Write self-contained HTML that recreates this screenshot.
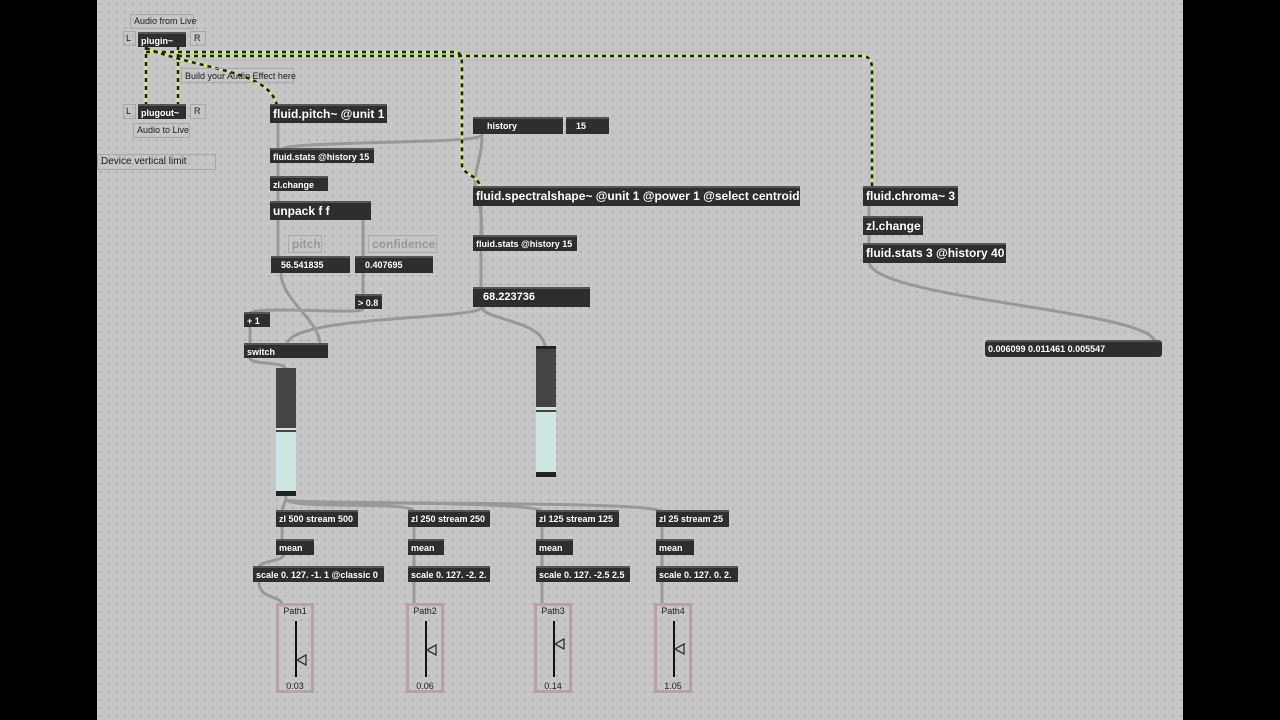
<!DOCTYPE html>
<html><head><meta charset="utf-8"><style>
body{margin:0;width:1280px;height:720px;overflow:hidden;background:#000;font-family:"Liberation Sans",sans-serif}
#p{position:absolute;left:97px;top:0;width:1086px;height:720px;background-color:#c6c6c6;background-image:radial-gradient(#a9a9a9 0.8px,transparent 1px);background-size:8px 8px}
.o{position:absolute;background:#2e2e2e;color:#fff;font-weight:bold;font-size:9px;line-height:14px;padding-left:3px;box-sizing:border-box;border-top:2px solid #555;white-space:nowrap;overflow:hidden}
.b{font-size:12px}
.c{position:absolute;border:1px solid #aaa;color:#222;font-size:9px;line-height:13px;padding:0 3px;box-sizing:border-box;white-space:nowrap}
.g{position:absolute;border:1px solid #aaa;color:#999;font-weight:bold;font-size:12px;line-height:16px;padding:0 3px;box-sizing:border-box}
.path{position:absolute;border:3px solid #b9a3a8;box-sizing:border-box;width:38px;height:90px;top:603px;font-size:9px;color:#222;text-align:center}
.path .l{position:absolute;left:16px;top:15px;width:2px;height:56px;background:#111}
.path svg{position:absolute;left:17px}
.path .v{position:absolute;bottom:-1px;width:100%;font-size:9px}
svg{position:absolute;left:0;top:0}
</style></head><body>
<div id="p"></div>
<svg width="1280" height="720">
<g fill="none" stroke="#999" stroke-width="3" stroke-linecap="round">
<path d="M278 122V150"/><path d="M278 163V178"/><path d="M278 190V203"/>
<path d="M278 220V258"/><path d="M363 220V258"/><path d="M363 273V296"/>
<path d="M363 309C363 315 250 305 250 314"/><path d="M250 327V345"/>
<path d="M281 273C281 300 320 320 320 345"/>
<path d="M482 307C482 320 287 315 287 345"/>
<path d="M482 307C482 320 545 320 545 348"/>
<path d="M250 358C250 366 286 360 286 370"/>
<path d="M281 150C281 140 480 145 482 135"/>
<path d="M482 134C482 160 475 165 475 185C475 200 482 195 482 237"/>
<path d="M481 206V237"/><path d="M481 251V289"/>
<path d="M286 495C286 505 282 505 282 512"/>
<path d="M286 500C300 510 414 500 414 512"/>
<path d="M286 500C300 505 542 500 542 512"/>
<path d="M286 500C300 505 662 500 662 512"/>
<path d="M282 527V541"/><path d="M414 527V541"/><path d="M542 527V541"/><path d="M662 527V541"/>
<path d="M283 555C283 562 259 560 259 568"/><path d="M414 555V568"/><path d="M542 555V568"/><path d="M662 555V568"/>
<path d="M259 582C259 600 282 595 282 605"/><path d="M414 582V605"/><path d="M542 582V605"/><path d="M662 582V605"/>
<path d="M869 206V218"/><path d="M869 235V245"/>
<path d="M869 263C880 300 1150 310 1155 342"/>
</g>
<g fill="none" stroke-width="2.5">
<g stroke="#c8f07a"><path d="M146 46V106"/><path d="M178 46V106"/><path d="M146 48C200 70 270 70 277 106"/><path d="M146 52H455C462 52 462 60 462 70V165C462 175 480 175 480 188"/><path d="M178 56H862C870 56 872 62 872 70V188"/></g>
<g stroke="#222" stroke-dasharray="4 4"><path d="M146 46V106"/><path d="M178 46V106"/><path d="M146 48C200 70 270 70 277 106"/><path d="M146 52H455C462 52 462 60 462 70V165C462 175 480 175 480 188"/><path d="M178 56H862C870 56 872 62 872 70V188"/></g>
</g>
</svg>
<div class="c" style="left:130px;top:14px;width:64px">Audio from Live</div>
<div class="c" style="left:123px;top:31px;width:13px;height:15px;padding:0 2px">L</div>
<div class="o" style="left:138px;top:32px;width:48px;height:15px">plugin~</div>
<div class="c" style="left:190px;top:31px;width:16px;height:15px">R</div>
<div class="c" style="left:181px;top:68px;width:113px;height:15px;line-height:14px">Build your Audio Effect here</div>
<div class="c" style="left:123px;top:104px;width:13px;height:15px;padding:0 2px">L</div>
<div class="o" style="left:138px;top:104px;width:48px;height:15px">plugout~</div>
<div class="c" style="left:190px;top:104px;width:16px;height:15px">R</div>
<div class="c" style="left:133px;top:123px;width:57px">Audio to Live</div>
<div class="c" style="left:97px;top:154px;width:119px;height:16px;font-size:10px">Device vertical limit</div>
<div class="o b" style="left:270px;top:104px;width:117px;height:19px;line-height:16px">fluid.pitch~ @unit 1</div>
<div class="o" style="left:270px;top:148px;width:104px;height:15px">fluid.stats @history 15</div>
<div class="o" style="left:270px;top:176px;width:58px;height:15px">zl.change</div>
<div class="o b" style="left:270px;top:201px;width:101px;height:19px;line-height:16px">unpack f f</div>
<div class="g" style="left:288px;top:235px;width:34px;height:18px">pitch</div>
<div class="g" style="left:368px;top:235px;width:69px;height:18px">confidence</div>
<div class="o" style="left:271px;top:256px;width:79px;height:17px;padding-left:10px">56.541835</div>
<div class="o" style="left:355px;top:256px;width:78px;height:17px;padding-left:10px">0.407695</div>
<div class="o" style="left:355px;top:294px;width:27px;height:15px">&gt; 0.8</div>
<div class="o" style="left:244px;top:312px;width:26px;height:15px">+ 1</div>
<div class="o" style="left:244px;top:343px;width:84px;height:15px">switch</div>
<div style="position:absolute;left:276px;top:368px;width:20px;height:128px;background:#444;border-bottom:5px solid #222;box-sizing:border-box"><div style="position:absolute;top:60px;left:0;width:20px;height:2px;background:#cfe5e3"></div><div style="position:absolute;top:64px;left:0;width:20px;height:59px;background:#cfe5e3"></div></div>
<div class="o" style="left:473px;top:117px;width:90px;height:17px;padding-left:14px">history</div>
<div class="o" style="left:566px;top:117px;width:43px;height:17px;padding-left:10px">15</div>
<div class="o b" style="left:473px;top:186px;width:327px;height:20px;line-height:17px">fluid.spectralshape~ @unit 1 @power 1 @select centroid</div>
<div class="o" style="left:473px;top:235px;width:104px;height:16px">fluid.stats @history 15</div>
<div class="o" style="left:473px;top:287px;width:117px;height:20px;font-size:11px;line-height:17px;padding-left:10px">68.223736</div>
<div style="position:absolute;left:536px;top:346px;width:20px;height:131px;background:#444;border-bottom:5px solid #222;border-top:3px solid #222;box-sizing:border-box"><div style="position:absolute;top:58px;left:0;width:20px;height:3px;background:#cfe5e3"></div><div style="position:absolute;top:63px;left:0;width:20px;height:60px;background:#cfe5e3"></div></div>
<div class="o b" style="left:863px;top:186px;width:95px;height:20px;line-height:17px">fluid.chroma~ 3</div>
<div class="o b" style="left:863px;top:216px;width:60px;height:19px;line-height:16px">zl.change</div>
<div class="o b" style="left:863px;top:243px;width:143px;height:20px;line-height:17px">fluid.stats 3 @history 40</div>
<div class="o" style="left:985px;top:340px;width:177px;height:17px;border-radius:3px">0.006099 0.011461 0.005547</div>
<div class="o" style="left:276px;top:510px;width:82px;height:17px">zl 500 stream 500</div>
<div class="o" style="left:408px;top:510px;width:82px;height:17px">zl 250 stream 250</div>
<div class="o" style="left:536px;top:510px;width:83px;height:17px">zl 125 stream 125</div>
<div class="o" style="left:656px;top:510px;width:73px;height:17px">zl 25 stream 25</div>
<div class="o" style="left:276px;top:539px;width:38px;height:16px">mean</div>
<div class="o" style="left:408px;top:539px;width:36px;height:16px">mean</div>
<div class="o" style="left:536px;top:539px;width:37px;height:16px">mean</div>
<div class="o" style="left:656px;top:539px;width:38px;height:16px">mean</div>
<div class="o" style="left:253px;top:566px;width:131px;height:16px">scale 0. 127. -1. 1 @classic 0</div>
<div class="o" style="left:408px;top:566px;width:82px;height:16px">scale 0. 127. -2. 2.</div>
<div class="o" style="left:536px;top:566px;width:94px;height:16px">scale 0. 127. -2.5 2.5</div>
<div class="o" style="left:656px;top:566px;width:82px;height:16px">scale 0. 127. 0. 2.</div>
<div class="path" style="left:276px">Path1<div class="l"></div><svg width="12" height="12" style="top:48px"><path d="M10 1L1 6L10 11Z" fill="none" stroke="#333" stroke-width="1.3"/></svg><div class="v">0.03</div></div>
<div class="path" style="left:406px">Path2<div class="l"></div><svg width="12" height="12" style="top:38px"><path d="M10 1L1 6L10 11Z" fill="none" stroke="#333" stroke-width="1.3"/></svg><div class="v">0.06</div></div>
<div class="path" style="left:534px">Path3<div class="l"></div><svg width="12" height="12" style="top:32px"><path d="M10 1L1 6L10 11Z" fill="none" stroke="#333" stroke-width="1.3"/></svg><div class="v">0.14</div></div>
<div class="path" style="left:654px">Path4<div class="l"></div><svg width="12" height="12" style="top:37px"><path d="M10 1L1 6L10 11Z" fill="none" stroke="#333" stroke-width="1.3"/></svg><div class="v">1.05</div></div>
</body></html>
